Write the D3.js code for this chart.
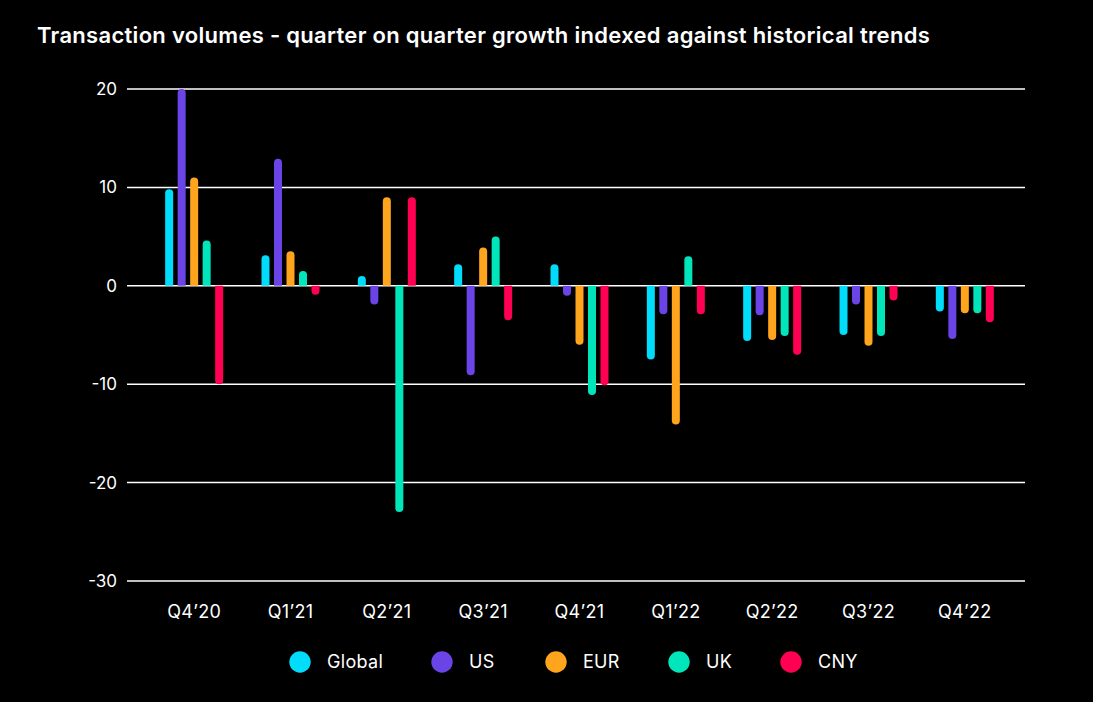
<!DOCTYPE html>
<html><head><meta charset="utf-8">
<script src="https://cdn.jsdelivr.net/npm/d3@7"></script>
<style>html,body{margin:0;padding:0;background:#000;}svg{display:block;}</style>
</head><body>
<svg id="c" width="1093" height="702"></svg>
<script>
const categories = ["Q4’20","Q1’21","Q2’21","Q3’21","Q4’21","Q1’22","Q2’22","Q3’22","Q4’22"];
const seriesNames = ["Global","US","EUR","UK","CNY"];
const seriesColors = ["#00DCFA","#6A44E6","#FFA41D","#00E6BA","#FF0052"];
const globalVals = [9.8, 3.1, 1.0, 2.2, 2.2, -7.5, -5.6, -5.0, -2.6];
const usVals     = [20, 12.9, -1.9, -9.1, -1.0, -2.9, -3.0, -1.9, -5.4];
const eurVals    = [11, 3.5, 9.0, 3.9, -6.0, -14.1, -5.5, -6.1, -2.8];
const ukVals     = [4.6, 1.5, -23, 5.0, -11.1, 3.0, -5.1, -5.1, -2.8];
const cnyVals    = [-10, -0.9, 9.0, -3.5, -10.1, -2.9, -7.0, -1.5, -3.7];
const yTicks = [20, 10, 0, -10, -20, -30];

const seriesVals = [globalVals, usVals, eurVals, ukVals, cnyVals];
const svg = d3.select("#c");
const font = "Inter, 'Noto Sans', sans-serif";

svg.append("text").attr("x", 37).attr("y", 43)
  .attr("fill", "#fff").attr("font-family", font).attr("font-weight", 600)
  .attr("font-size", 22).attr("letter-spacing", 0.3)
  .text("Transaction volumes - quarter on quarter growth indexed against historical trends");

const y = d3.scaleLinear().domain([-30, 20]).range([581, 89]);
const x0 = d3.scaleBand().domain(categories).range([146, 1013]).padding(0);
const x1 = d3.scaleBand().domain(seriesNames).range([-31.25, 31.25]);

// grid
svg.append("g").selectAll("line").data(yTicks).join("line")
  .attr("x1", 127).attr("x2", 1025)
  .attr("y1", d => y(d)).attr("y2", d => y(d))
  .attr("stroke", "#fff").attr("stroke-width", 1.5);

// y labels
svg.append("g").selectAll("text").data(yTicks).join("text")
  .attr("x", 117).attr("y", d => y(d)).attr("dy", "0.35em")
  .attr("text-anchor", "end").attr("fill", "#fff")
  .attr("font-family", font).attr("font-size", 17).text(d => d);

// bars
const bw = 8, r = 4;
const barData = [];
categories.forEach((c, i) => seriesNames.forEach((s, j) => barData.push({c, s, j, v: seriesVals[j][i]})));
function barPath(d) {
  const cx = x0(d.c) + x0.bandwidth() / 2 + x1(d.s) + x1.bandwidth() / 2;
  const xl = cx - bw / 2, xr = cx + bw / 2;
  const y0 = y(0), yv = y(d.v);
  const p = d3.path();
  if (d.v >= 0) {
    const rr = Math.min(r, y0 - yv);
    p.moveTo(xl, y0); p.lineTo(xl, yv + rr);
    p.arcTo(xl, yv, cx, yv, rr); p.arcTo(xr, yv, xr, yv + rr, rr);
    p.lineTo(xr, y0); p.closePath();
  } else {
    const rr = Math.min(r, yv - y0);
    p.moveTo(xl, y0); p.lineTo(xl, yv - rr);
    p.arcTo(xl, yv, cx, yv, rr); p.arcTo(xr, yv, xr, yv - rr, rr);
    p.lineTo(xr, y0); p.closePath();
  }
  return p.toString();
}
svg.append("g").selectAll("path").data(barData).join("path")
  .attr("d", barPath).attr("fill", d => seriesColors[d.j]);

// x labels
svg.append("g").selectAll("text").data(categories).join("text")
  .attr("x", d => x0(d) + x0.bandwidth() / 2).attr("y", 612).attr("dy", "0.35em")
  .attr("text-anchor", "middle").attr("fill", "#fff")
  .attr("font-family", font).attr("font-size", 18).attr("letter-spacing", 0.3).text(d => d);

// legend
const legX = [300, 442, 556, 679, 791];
const lg = svg.append("g").selectAll("g").data(seriesNames).join("g")
  .attr("transform", (d, i) => `translate(${legX[i]},662)`);
lg.append("circle").attr("r", 10.7).attr("fill", (d, i) => seriesColors[i]);
lg.append("text").attr("x", 27).attr("dy", "0.35em").attr("fill", "#fff")
  .attr("font-family", font).attr("font-size", 18).attr("letter-spacing", 0.3).text(d => d);
</script>
</body></html>
